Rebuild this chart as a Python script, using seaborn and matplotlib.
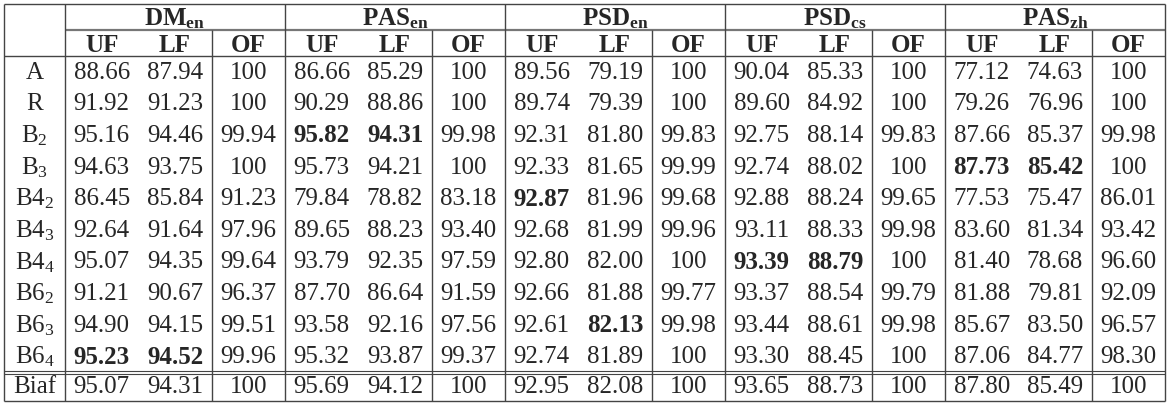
import matplotlib
matplotlib.use("Agg")
import matplotlib.pyplot as plt
import seaborn as sns

sns.set_theme(style="white")
plt.rcParams['font.family'] = ['Liberation Serif', 'DejaVu Serif']
plt.rcParams['mathtext.fontset'] = 'custom'
plt.rcParams['mathtext.rm'] = 'Liberation Serif'
plt.rcParams['mathtext.bf'] = 'Liberation Serif:bold'
plt.rcParams['mathtext.it'] = 'Liberation Serif:italic'

groups = [r"$\mathbf{DM_{en}}$", r"$\mathbf{PAS_{en}}$", r"$\mathbf{PSD_{en}}$",
          r"$\mathbf{PSD_{cs}}$", r"$\mathbf{PAS_{zh}}$"]
subcols = ["UF", "LF", "OF"]
rows = ["A", "R", r"B$_2$", r"B$_3$", r"B4$_2$", r"B4$_3$", r"B4$_4$",
        r"B6$_2$", r"B6$_3$", r"B6$_4$", "Biaf"]
values = [
    ["88.66", "87.94", "100", "86.66", "85.29", "100", "89.56", "79.19", "100", "90.04", "85.33", "100", "77.12", "74.63", "100"],
    ["91.92", "91.23", "100", "90.29", "88.86", "100", "89.74", "79.39", "100", "89.60", "84.92", "100", "79.26", "76.96", "100"],
    ["95.16", "94.46", "99.94", "95.82", "94.31", "99.98", "92.31", "81.80", "99.83", "92.75", "88.14", "99.83", "87.66", "85.37", "99.98"],
    ["94.63", "93.75", "100", "95.73", "94.21", "100", "92.33", "81.65", "99.99", "92.74", "88.02", "100", "87.73", "85.42", "100"],
    ["86.45", "85.84", "91.23", "79.84", "78.82", "83.18", "92.87", "81.96", "99.68", "92.88", "88.24", "99.65", "77.53", "75.47", "86.01"],
    ["92.64", "91.64", "97.96", "89.65", "88.23", "93.40", "92.68", "81.99", "99.96", "93.11", "88.33", "99.98", "83.60", "81.34", "93.42"],
    ["95.07", "94.35", "99.64", "93.79", "92.35", "97.59", "92.80", "82.00", "100", "93.39", "88.79", "100", "81.40", "78.68", "96.60"],
    ["91.21", "90.67", "96.37", "87.70", "86.64", "91.59", "92.66", "81.88", "99.77", "93.37", "88.54", "99.79", "81.88", "79.81", "92.09"],
    ["94.90", "94.15", "99.51", "93.58", "92.16", "97.56", "92.61", "82.13", "99.98", "93.44", "88.61", "99.98", "85.67", "83.50", "96.57"],
    ["95.23", "94.52", "99.96", "95.32", "93.87", "99.37", "92.74", "81.89", "100", "93.30", "88.45", "100", "87.06", "84.77", "98.30"],
    ["95.07", "94.31", "100", "95.69", "94.12", "100", "92.95", "82.08", "100", "93.65", "88.73", "100", "87.80", "85.49", "100"],
]
bold = {(2, 3), (2, 4), (3, 12), (3, 13), (4, 6), (6, 9), (6, 10), (8, 7), (9, 0), (9, 1)}

fig = plt.figure(figsize=(11.67, 4.06), dpi=100)
ax = fig.add_axes([0, 0, 1, 1])
ax.set_xlim(0, 1167)
ax.set_ylim(406, 0)
ax.axis("off")

x0, xl, xr = 4, 65, 1165
cw = (xr - xl) / 15.0
ytop, yg, yh = 5, 31, 57
rh = 31.6
ydata_end = yh + 10 * rh
ybot = 402
lc = "#444444"
fs = 18

def vline(x, y1, y2, lw=1.0):
    ax.plot([x, x], [y1, y2], color=lc, lw=lw, solid_capstyle="butt")

def hline(y, x1, x2, lw=1.0, color=lc):
    ax.plot([x1, x2], [y, y], color=color, lw=lw, solid_capstyle="butt")

hline(ytop, x0, xr)
hline(yg, xl, xr, lw=1.6, color="#777777")
hline(yh, x0, xr)
hline(ydata_end - 1.5, x0, xr, lw=0.8)
hline(ydata_end + 1.5, x0, xr, lw=0.8)
hline(ybot, x0, xr)
vline(x0, ytop, ybot)
vline(xl, ytop, ybot)
for g in range(5):
    vline(xl + (3 * g + 3) * cw, ytop, ybot)
    vline(xl + (3 * g + 2) * cw, yg, ybot)
    ax.text(xl + (3 * g + 1.5) * cw, (ytop + yg) / 2 + 1, groups[g], ha="center", va="center", fontsize=fs)
    for k, s in enumerate(subcols):
        ax.text(xl + (3 * g + k + 0.5) * cw, (yg + yh) / 2 + 1, s, ha="center", va="center",
                fontsize=fs, fontweight="bold")

for i, r in enumerate(rows):
    if i < 10:
        yc = yh + (i + 0.5) * rh
    else:
        yc = (ydata_end + ybot) / 2
    ax.text((x0 + xl) / 2, yc, r, ha="center", va="center", fontsize=fs)
    for j, v in enumerate(values[i]):
        ax.text(xl + (j + 0.5) * cw, yc, v, ha="center", va="center", fontsize=fs,
                fontweight="bold" if (i, j) in bold else "normal")

fig.savefig("out.png", dpi=100, facecolor="white")
